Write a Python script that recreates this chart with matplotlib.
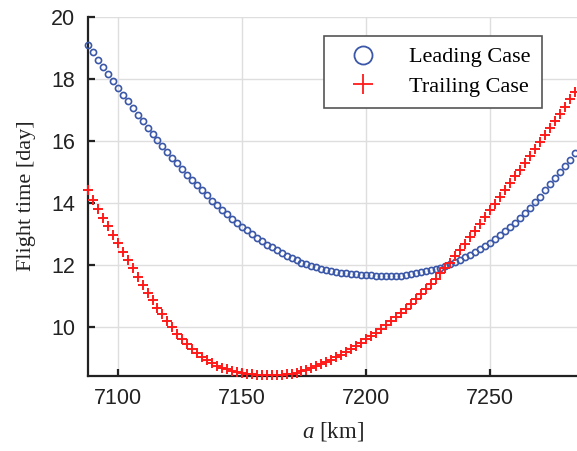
import matplotlib
matplotlib.use("Agg")
import matplotlib.pyplot as plt
from matplotlib.lines import Line2D

plt.rcParams["mathtext.fontset"] = "custom"
plt.rcParams["mathtext.rm"] = "Liberation Serif"
plt.rcParams["mathtext.it"] = "Liberation Serif:italic"

# semi-major axis samples [km]
a_km = list(range(7088, 7286, 2))

# flight time [day], leading case
leading = [
    19.10, 18.85, 18.61, 18.39, 18.16, 17.93, 17.71, 17.48, 17.27, 17.05,
    16.84, 16.62, 16.42, 16.23, 16.02, 15.83, 15.65, 15.45, 15.27, 15.09,
    14.90, 14.73, 14.56, 14.40, 14.24, 14.07, 13.93, 13.77, 13.63, 13.49,
    13.35, 13.23, 13.11, 12.99, 12.87, 12.76, 12.65, 12.56, 12.46, 12.38,
    12.29, 12.22, 12.14, 12.07, 12.01, 11.96, 11.91, 11.86, 11.83, 11.79,
    11.76, 11.73, 11.72, 11.70, 11.69, 11.68, 11.67, 11.66, 11.65, 11.65,
    11.64, 11.64, 11.64, 11.65, 11.67, 11.70, 11.73, 11.76, 11.80, 11.83,
    11.86, 11.90, 11.95, 12.01, 12.08, 12.15, 12.24, 12.31, 12.41, 12.51,
    12.60, 12.71, 12.83, 12.95, 13.08, 13.22, 13.36, 13.52, 13.67, 13.84,
    14.01, 14.19, 14.40, 14.59, 14.79, 14.98, 15.18, 15.39, 15.60,
]

# flight time [day], trailing case
trailing = [
    14.40, 14.10, 13.81, 13.52, 13.24, 12.96, 12.69, 12.41, 12.14, 11.88,
    11.60, 11.33, 11.09, 10.85, 10.61, 10.40, 10.18, 9.98, 9.78, 9.60,
    9.44, 9.29, 9.15, 9.02, 8.91, 8.82, 8.74, 8.68, 8.62, 8.58,
    8.55, 8.52, 8.49, 8.47, 8.45, 8.44, 8.43, 8.43, 8.43, 8.44,
    8.46, 8.49, 8.52, 8.56, 8.61, 8.67, 8.73, 8.80, 8.87, 8.94,
    9.02, 9.10, 9.19, 9.28, 9.38, 9.49, 9.60, 9.70, 9.81, 9.92,
    10.04, 10.17, 10.30, 10.44, 10.58, 10.73, 10.88, 11.04, 11.20, 11.37,
    11.55, 11.73, 11.88, 12.07, 12.27, 12.47, 12.68, 12.89, 13.10, 13.31,
    13.53, 13.75, 13.97, 14.19, 14.41, 14.63, 14.85, 15.07, 15.29, 15.51,
    15.73, 15.95, 16.17, 16.40, 16.63, 16.86, 17.10, 17.34, 17.58,
]

x_ticks = [7100, 7150, 7200, 7250]
y_ticks = [10, 12, 14, 16, 18, 20]

blue = "#3b57a8"
red = "#ff1a1a"
serif = "Liberation Serif"

fig = plt.figure(figsize=(5.77, 4.51), dpi=100)
ax = fig.add_axes([0.1525, 0.167, 0.8475, 0.796])

ax.plot(a_km, leading, linestyle="none", marker="o", markersize=4.4,
        markerfacecolor="none", markeredgecolor=blue, markeredgewidth=1.2,
        clip_on=False, zorder=3)
ax.plot(a_km, trailing, linestyle="none", marker="+", markersize=6.8,
        color=red, markeredgewidth=1.4, clip_on=False, zorder=3)

ax.set_xlim(7088, 7285)
ax.set_ylim(8.42, 20)
ax.set_xticks(x_ticks)
ax.set_yticks(y_ticks)

ax.grid(True, color="#dedede", linewidth=1.0)
ax.set_axisbelow(True)
for side in ["top", "right"]:
    ax.spines[side].set_visible(False)
for side in ["left", "bottom"]:
    ax.spines[side].set_linewidth(1.6)
    ax.spines[side].set_color("#222222")

ax.tick_params(direction="in", length=5, width=1.6, color="#222222",
               labelsize=15.5, labelcolor="#222222")
ax.tick_params(axis="y", pad=9)
ax.tick_params(axis="x", pad=9)
for lab in ax.get_xticklabels() + ax.get_yticklabels():
    lab.set_family("Liberation Sans")

ax.set_xlabel(r"$a$ [km]", fontsize=16.5, family=serif, color="#222222",
              labelpad=8)
ax.set_ylabel("Flight time [day]", fontsize=16, family=serif,
              color="#222222", labelpad=11)

handles = [
    Line2D([], [], linestyle="none", marker="o", markersize=13,
           markerfacecolor="none", markeredgecolor=blue, markeredgewidth=1.3),
    Line2D([], [], linestyle="none", marker="+", markersize=14,
           color=red, markeredgewidth=1.3),
]
leg = ax.legend(handles, ["Leading Case", "Trailing Case"],
                loc="upper right", bbox_to_anchor=(0.928, 0.947),
                borderaxespad=0, prop={"family": serif, "size": 16},
                fancybox=False, framealpha=1, edgecolor="#555555",
                handlelength=2.5, handletextpad=0.85, borderpad=0.5,
                labelspacing=0.4)
leg.get_frame().set_linewidth(1.2)

fig.savefig("out.png", dpi=100)
